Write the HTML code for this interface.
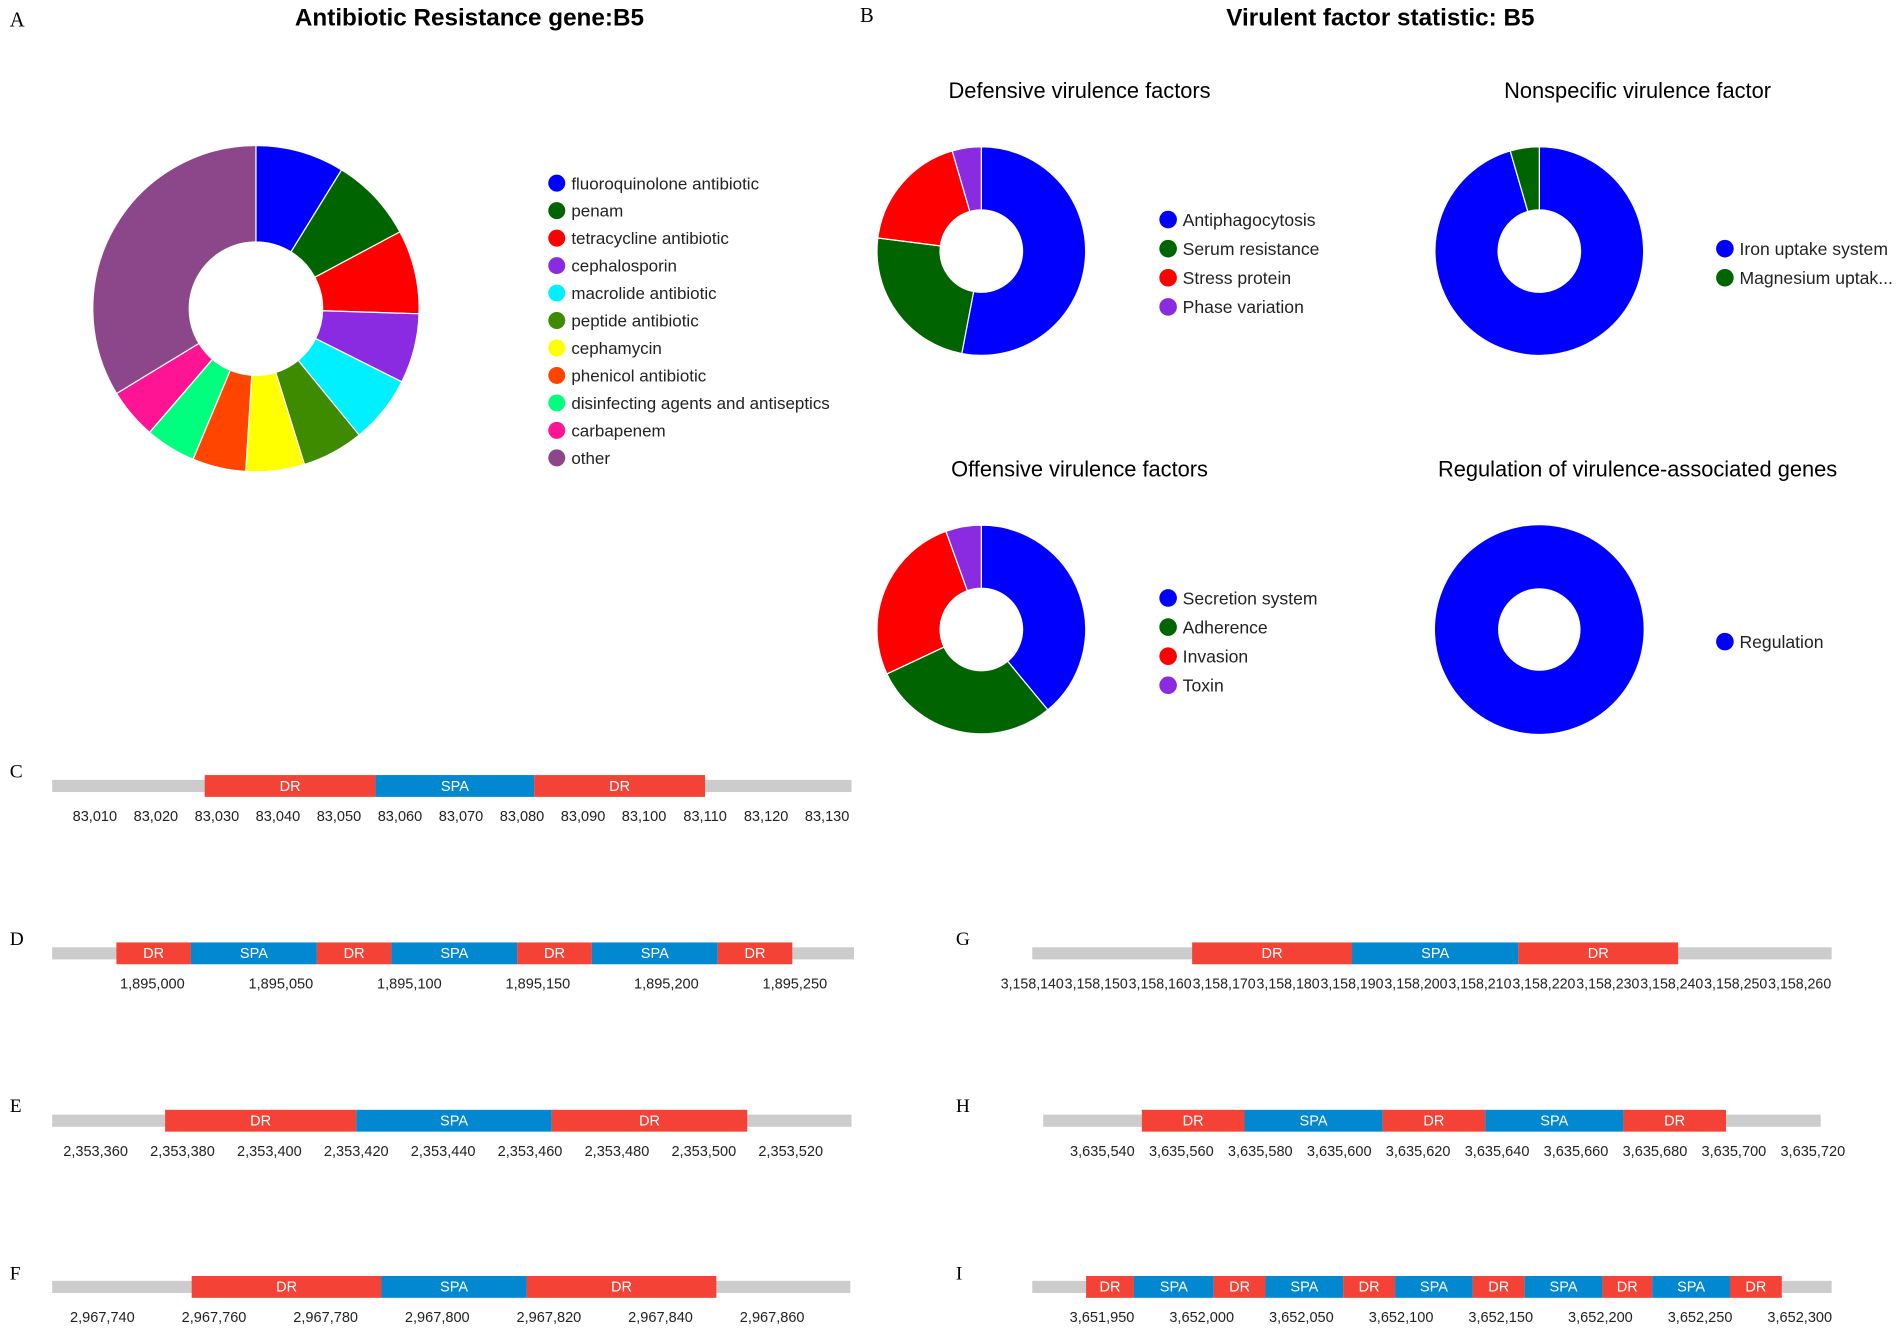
<!DOCTYPE html>
<html><head><meta charset="utf-8"><title>B5 resistance and virulence</title>
<style>html,body{margin:0;padding:0;background:#fff}svg{display:block}
text{font-family:"Liberation Sans",sans-serif}</style></head>
<body>
<svg id="fig" width="1902" height="1333" viewBox="0 0 1568 1099" preserveAspectRatio="none" xmlns="http://www.w3.org/2000/svg">
<text x="8" y="22" font-size="17" style="font-family:'Liberation Serif',serif">A</text>
<text x="387" y="21" text-anchor="middle" font-size="20" font-weight="bold">Antibiotic Resistance gene:B5</text>
<text x="709" y="18" font-size="17" style="font-family:'Liberation Serif',serif">B</text>
<text x="1138" y="21" text-anchor="middle" font-size="20" font-weight="bold">Virulent factor statistic: B5</text>
<text x="890" y="81" text-anchor="middle" font-size="18">Defensive virulence factors</text>
<text x="1350" y="81" text-anchor="middle" font-size="18">Nonspecific virulence factor</text>
<text x="890" y="393" text-anchor="middle" font-size="18">Offensive virulence factors</text>
<text x="1350" y="393" text-anchor="middle" font-size="18">Regulation of virulence-associated genes</text>
<g id="g"></g>
</svg>
<script>
// ---- Donut data ----
const abLabels = ["fluoroquinolone antibiotic","penam","tetracycline antibiotic","cephalosporin","macrolide antibiotic","peptide antibiotic","cephamycin","phenicol antibiotic","disinfecting agents and antiseptics","carbapenem","other"];
const abValues = [8.8,8.4,8.3,6.9,6.7,6.1,5.8,5.3,5.0,5.0,33.7];
const abColors = ["#0000ff","#006400","#ff0000","#8a2be2","#00f0ff","#3f8b00","#ffff00","#ff4500","#00ff7f","#ff1493","#8b4789"];
const defLabels = ["Antiphagocytosis","Serum resistance","Stress protein","Phase variation"];
const defValues = [53,24,18.5,4.5];
const nonLabels = ["Iron uptake system","Magnesium uptak..."];
const nonValues = [95.5,4.5];
const offLabels = ["Secretion system","Adherence","Invasion","Toxin"];
const offValues = [39,29,26.5,5.5];
const regLabels = ["Regulation"];
const regValues = [100];
const vfColors = ["#0000ff","#006400","#ff0000","#8a2be2"];

// ---- CRISPR track data ----
const trackNames = ["C","D","E","F","G","H","I"];
const trackDomains = [[83003,83134],[1894961,1895273],[2353350,2353534],[2967731,2967874],[3158140,3158265],[3635525,3635722],[3651915,3652316]];
const trackTicks = [
 [83010,83020,83030,83040,83050,83060,83070,83080,83090,83100,83110,83120,83130],
 [1895000,1895050,1895100,1895150,1895200,1895250],
 [2353360,2353380,2353400,2353420,2353440,2353460,2353480,2353500,2353520],
 [2967740,2967760,2967780,2967800,2967820,2967840,2967860],
 [3158140,3158150,3158160,3158170,3158180,3158190,3158200,3158210,3158220,3158230,3158240,3158250,3158260],
 [3635540,3635560,3635580,3635600,3635620,3635640,3635660,3635680,3635700,3635720],
 [3651950,3652000,3652050,3652100,3652150,3652200,3652250,3652300]];
const trackBounds = [
 [83028,83056,83082,83110],
 [1894986,1895015,1895064,1895093,1895142,1895171,1895220,1895249],
 [2353376,2353420,2353465,2353510],
 [2967756,2967790,2967816,2967850],
 [3158165,3158190,3158216,3158241],
 [3635550,3635576,3635611,3635637,3635672,3635698],
 [3651942,3651966,3652006,3652032,3652071,3652097,3652136,3652162,3652201,3652226,3652265,3652291]];

const NS="http://www.w3.org/2000/svg";
const G=document.getElementById('g');
function mk(tag,attrs,parent){const e=document.createElementNS(NS,tag);for(const k in attrs)e.setAttribute(k,attrs[k]);(parent||G).appendChild(e);return e;}

function donut(name,cx,cy,R,r,values,colors,labels,lx,ly,dy,fs){
  const grp=mk('g',{});
  
  
  const tot=values.reduce((a,b)=>a+b,0);
  let a0=0;
  values.forEach((v,i)=>{
    const a1=a0+v/tot*Math.PI*2;
    let el;
    if(v/tot>0.9999){
      el=mk('circle',{cx:cx,cy:cy,r:R,fill:colors[i]},grp);
      mk('circle',{cx:cx,cy:cy,r:r,fill:'#fff'},grp);
    } else {
      const p=(a,rad)=>[cx+rad*Math.sin(a),cy-rad*Math.cos(a)];
      const [x0,y0]=p(a0,R),[x1,y1]=p(a1,R),[x2,y2]=p(a1,r),[x3,y3]=p(a0,r);
      const lg=(a1-a0)>Math.PI?1:0;
      el=mk('path',{d:`M${x0},${y0}A${R},${R} 0 ${lg} 1 ${x1},${y1}L${x2},${y2}A${r},${r} 0 ${lg} 0 ${x3},${y3}Z`,fill:colors[i],stroke:'#fff','stroke-width':1},grp);
    }
    
    
    a0=a1;
  });
  labels.forEach((t,i)=>{
    const c=mk('circle',{cx:lx,cy:ly+i*dy,r:fs*0.5,fill:colors[i]});
    
    
    const tx=mk('text',{x:lx+12,y:ly+i*dy+fs*0.36,'font-size':fs,fill:'#222'});
    tx.textContent=t;
    
    
  });
}
donut('antibiotic',211,254.5,134.5,55,abValues,abColors,abLabels,459,151,22.65,14);
donut('defensive',809,207,86,34,defValues,vfColors,defLabels,963,181,24,14.5);
donut('nonspecific',1269,207,86,34,nonValues,vfColors,nonLabels,1422,205,24,14.5);
donut('offensive',809,519,86,34,offValues,vfColors,offLabels,963,493,24,14.5);
donut('regulation',1269,519,86,34,regValues,vfColors,regLabels,1422,529,24,14.5);

// track layout: pixel extent of gray bar and vertical center
const trackPix=[[43,702,648],[43,704,786],[43,702,924],[43,701,1061],[851,1510,786],[860,1501,924],[851,1510,1061]];
const labelPos=[[8,641],[8,779],[8,917],[8,1055],[788,779],[788,917],[788,1055]];
trackNames.forEach((nm,t)=>{
  const [p0,p1,yc]=trackPix[t];const [d0,d1]=trackDomains[t];
  const sx=v=>p0+(v-d0)/(d1-d0)*(p1-p0);
  const lab=mk('text',{x:labelPos[t][0],y:labelPos[t][1],'font-size':16,style:"font-family:'Liberation Serif',serif"});
  lab.textContent=nm;
  
  
  const bg=mk('rect',{x:sx(d0),y:yc-5,width:sx(d1)-sx(d0),height:10,fill:'#cccccc'});
  
  
  const b=trackBounds[t];
  for(let i=0;i<b.length-1;i++){
    const dr=i%2===0;
    const r=mk('rect',{x:sx(b[i]),y:yc-9,width:sx(b[i+1])-sx(b[i]),height:18,fill:dr?'#f44336':'#0288d1'});
    
    
    const tx=mk('text',{x:(sx(b[i])+sx(b[i+1]))/2,y:yc+4,'text-anchor':'middle','font-size':12,fill:'#fff'});
    tx.textContent=dr?'DR':'SPA';
    
    
  }
  trackTicks[t].forEach(v=>{
    const tx=mk('text',{x:sx(v),y:yc+29,'text-anchor':'middle','font-size':12,fill:'#222'});
    if(t===4){tx.setAttribute('textLength',52);tx.setAttribute('lengthAdjust','spacingAndGlyphs');}
    tx.textContent=v.toLocaleString('en-US');
    
    
  });
});
</script>
</body></html>
